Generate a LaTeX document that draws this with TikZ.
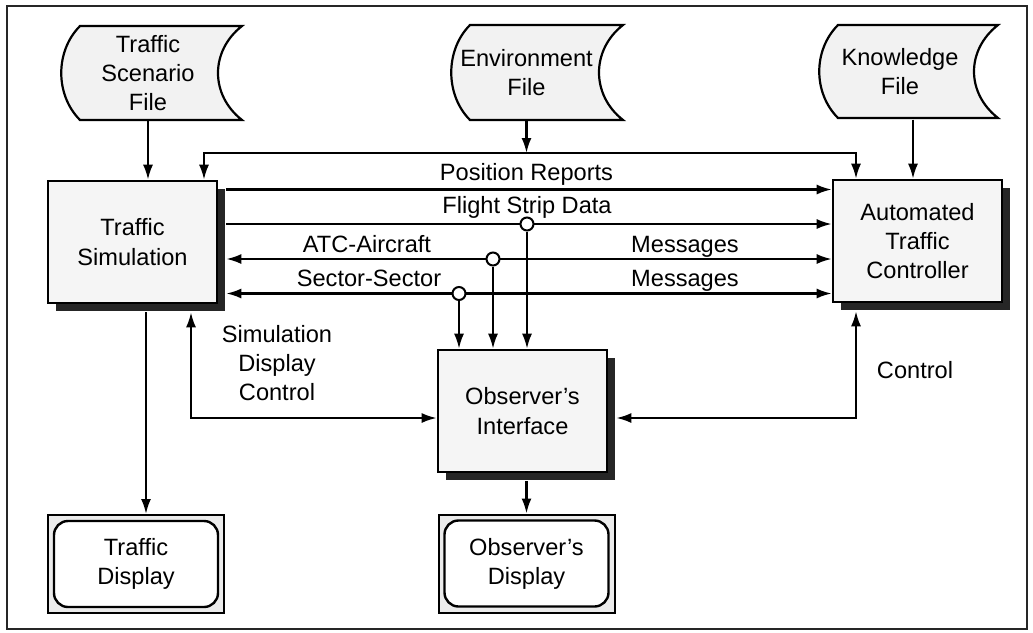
\documentclass[tikz,border=0pt]{standalone}
\usepackage{fontspec}
\setmainfont{Liberation Sans}
\usetikzlibrary{arrows.meta,shadows}

\tikzset{
  arr/.style={-{Latex[length=7.5pt,width=5pt]}},
  arr2/.style={{Latex[length=7.5pt,width=5pt]}-{Latex[length=7.5pt,width=5pt]}},
  block/.style={draw,line width=1.3pt,fill=black!4,minimum width=84.5pt,minimum height=61pt,
    align=center,inner sep=0pt,general shadow={fill=black!85,shadow xshift=4pt,shadow yshift=-4pt}},
  filebox/.style={draw,line width=1.1pt,fill=black!5},
  filetext/.style={align=center,minimum height=47pt,inner sep=0pt},
  screenframe/.style={draw,line width=1pt,fill=black!8,minimum width=88pt,minimum height=49pt},
  screen/.style={draw,line width=1.2pt,fill=white,rounded corners=7pt,minimum width=82pt,
    minimum height=43pt,align=center},
  tap/.style={circle,draw,line width=1pt,fill=white,minimum size=6.5pt,inner sep=0pt},
  lbl/.style={anchor=base,inner sep=0pt},
}

% stored data symbol: name, left, right, top, bottom, text x, text
\newcommand\storedfile[7]{%
  \draw[filebox] (#2,#4) -- (#3,#4)
    .. controls ({#3-32},{#4+25}) and ({#3-32},{#5-25}) .. (#3,#5)
    -- (#2,#5)
    .. controls ({#2-25},{#5-25}) and ({#2-25},{#4+25}) .. (#2,#4) -- cycle;
  \node[filetext] (#1) at ({#6},{(#4+#5)/2}) {#7};
}

\begin{document}
\begin{tikzpicture}[x=0.5pt,y=-0.5pt,line width=1.1pt,font=\fontsize{11.8}{14.6}\selectfont]
  \useasboundingbox (0,0) rectangle (1033,632);
  \draw[line width=1.2pt,black!85] (7,6) rectangle (1027,629);

  % input files
  \storedfile{scen}{80}{242}{26}{120}{148}{Traffic\\Scenario\\File}
  \storedfile{env}{470}{623}{25}{120}{526.5}{Environment\\File}
  \storedfile{know}{838}{998}{25}{118}{900}{Knowledge\\File}

  % processes
  \node[block] (sim) at (132.5,242) {Traffic\\Simulation};
  \node[block] (atc) at (917.5,241) {Automated\\Traffic\\Controller};
  \node[block] (obs) at (522.5,411) {Observer's\\Interface};

  \coordinate (simr) at ([xshift=4pt]sim.east);
  \coordinate (simb) at ([yshift=-4pt]sim.south);
  \coordinate (atcb) at ([yshift=-4pt]atc.south);
  \coordinate (obsr) at ([xshift=4pt]obs.east);
  \coordinate (obsb) at ([yshift=-4pt]obs.south);

  % displays
  \node[screenframe] (tdispf) at (136,564) {};
  \node[screen] (tdisp) at (tdispf) {Traffic\\Display};
  \node[screenframe] (odispf) at (526.5,563.5) {};
  \node[screen] (odisp) at (odispf) {Observer's\\Display};

  % environment bus
  \coordinate (busl) at (204,153);
  \coordinate (busr) at (856,153);
  \draw[arr2] (busl |- sim.north) -- (busl) -- (busr) -- (busr |- atc.north);
  \draw[arr] (env.south) -- (env.south |- busl);
  \draw[arr] (scen.south) -- (scen.south |- sim.north);
  \coordinate (knowo) at ([xshift=6.5pt]know.south);
  \draw[arr] (knowo) -- (knowo |- atc.north);

  % message lines
  \foreach \y/\m/\tip in {189.5/pos/arr,224/strip/arr,259/air/arr2,293.5/sec/arr2}{
    \coordinate (\m l) at (simr |- 0,\y);
    \coordinate (\m r) at (atc.west |- 0,\y);
    \draw[\tip] (\m l) -- (\m r);
  }

  % taps to the observer
  \node[tap] (tstrip) at (527,224) {};
  \node[tap] (tair) at (493,259) {};
  \node[tap] (tsec) at (459,293.5) {};
  \foreach \t in {tstrip,tair,tsec}
    \draw[arr] (\t) -- (\t |- obs.north);

  \node[lbl] (lpos) at (526.5,180) {Position Reports};
  \node[lbl] (lstrip) at (527,213) {Flight Strip Data};
  \node[lbl] (lair) at (367,252) {ATC-Aircraft};
  \node[lbl] (lairm) at (685,252) {Messages};
  \node[lbl] (lsec) at (369,286) {Sector-Sector};
  \node[lbl] (lsecm) at (685,286) {Messages};

  % control loops
  \draw[arr2] (simb -| 191,0) -- (191,418) -- (obs.west |- 0,418);
  \draw[arr2] (atcb -| 856,0) -- (856,418) -- (obsr |- 0,418);
  \node[align=center] (lsimctl) at (277,363) {Simulation\\Display\\Control};
  \node (lctl) at (915,370) {Control};

  % outputs
  \draw[arr] (simb -| 146,0) -- (tdispf.north -| 146,0);
  \draw[arr] (obsb -| odispf.north) -- (odispf.north);
\end{tikzpicture}
\end{document}
